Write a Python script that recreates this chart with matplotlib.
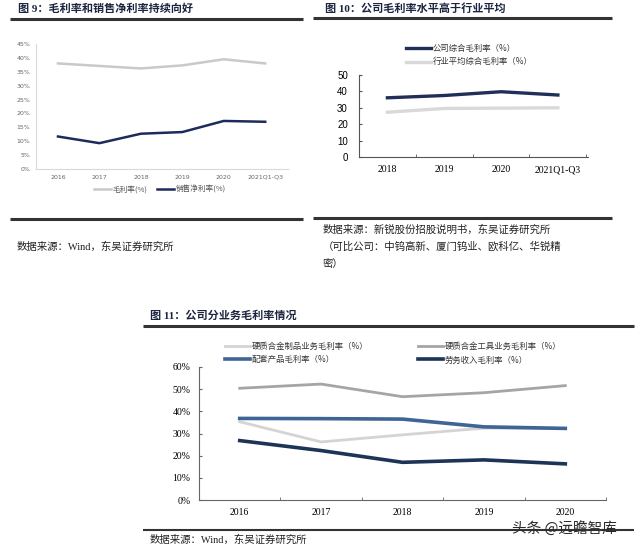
import matplotlib
matplotlib.use("Agg")
import matplotlib.pyplot as plt
from matplotlib.lines import Line2D

plt.rcParams['font.family'] = ['Noto Sans CJK SC', 'DejaVu Sans']

# ---------------- data ----------------
years1 = ["2016", "2017", "2018", "2019", "2020", "2021Q1-Q3"]
gross1 = [38.0, 37.1, 36.2, 37.3, 39.5, 38.0]
net1 = [11.7, 9.3, 12.7, 13.3, 17.3, 17.0]
legend1 = ["毛利率(%)", "销售净利率(%)"]

years2 = ["2018", "2019", "2020", "2021Q1-Q3"]
company2 = [36.1, 37.5, 39.8, 37.8]
industry2 = [27.3, 29.6, 29.8, 30.0]
legend2 = ["公司综合毛利率（%）", "行业平均综合毛利率（%）"]

years3 = ["2016", "2017", "2018", "2019", "2020"]
products3 = [35.3, 26.2, 29.4, 32.4, 32.3]
tools3 = [50.4, 52.3, 46.6, 48.4, 51.6]
supporting3 = [36.8, 36.7, 36.5, 33.0, 32.3]
service3 = [26.8, 22.3, 17.0, 18.1, 16.3]
legend3 = ["硬质合金制品业务毛利率（%）", "硬质合金工具业务毛利率（%）",
           "配套产品毛利率（%）", "劳务收入毛利率（%）"]

titles = ["图 9：毛利率和销售净利率持续向好",
          "图 10：公司毛利率水平高于行业平均",
          "图 11：公司分业务毛利率情况"]
src1 = "数据来源：Wind，东吴证券研究所"
src2 = ["数据来源：新锐股份招股说明书，东吴证券研究所",
        "（可比公司：中钨高新、厦门钨业、欧科亿、华锐精",
        "密）"]
src3 = "数据来源：Wind，东吴证券研究所"
watermark = "头条 @远瞻智库"

W, H = 640, 549
fig = plt.figure(figsize=(W / 100, H / 100), dpi=100)
fig.patch.set_facecolor("white")


def fx(x):
    return x / W


def fy(y):
    return 1 - y / H


def rect(l, t, r, b):
    return [fx(l), fy(b), (r - l) / W, (b - t) / H]


def hline(x0, x1, y, lw=2.0, color="#333333"):
    fig.add_artist(Line2D([fx(x0), fx(x1)], [fy(y), fy(y)], transform=fig.transFigure,
                          color=color, lw=lw, solid_capstyle="butt"))


def ftext(x, y, s, size=8, weight="normal", color="#222222", family=None, **kw):
    fam = family or ['Liberation Serif', 'Noto Sans CJK SC']
    fig.text(fx(x), fy(y), s, fontsize=size, fontweight=weight, color=color,
             family=fam, va="center", ha=kw.pop("ha", "left"), **kw)


TITLE_FAM = ['Liberation Serif', 'Noto Sans CJK SC']
title_color = "#1c2440"

# ---------------- chart 1 ----------------
ftext(18, 9, titles[0], size=8, weight="bold", color=title_color, family=TITLE_FAM)
hline(10, 303, 19, lw=2.2)
hline(10, 303, 219, lw=2.2)
ftext(17, 247, src1, size=7.5)

ax1 = fig.add_axes(rect(36, 44, 288, 169))
x1 = list(range(len(years1)))
ax1.plot(x1, gross1, color="#c9c9c9", lw=1.8, label=legend1[0])
ax1.plot(x1, net1, color="#1f2a5c", lw=1.8, label=legend1[1])
ax1.set_ylim(0, 45)
ax1.set_xlim(-0.53, 5.55)
ax1.set_yticks(range(0, 46, 5))
ax1.set_yticklabels([f"{v}%" for v in range(0, 46, 5)])
ax1.set_xticks(x1)
ax1.set_xticklabels(years1)
for s in ["top", "right"]:
    ax1.spines[s].set_visible(False)
for s in ["left", "bottom"]:
    ax1.spines[s].set_color("#d9d9d9")
    ax1.spines[s].set_linewidth(0.8)
ax1.tick_params(axis="both", length=0, labelsize=4.5, labelcolor="#666666", pad=4)
for lab in ax1.get_xticklabels() + ax1.get_yticklabels():
    lab.set_family(['DejaVu Sans'])
leg1 = ax1.legend(loc="center", bbox_to_anchor=(fx(160), fy(190)), bbox_transform=fig.transFigure,
                  ncol=2, frameon=False, fontsize=5.5, handlelength=2.2, columnspacing=1.2,
                  handletextpad=0.3)
for t in leg1.get_texts():
    t.set_color("#555555")

# ---------------- chart 2 ----------------
ftext(325, 9, titles[1], size=8, weight="bold", color=title_color, family=TITLE_FAM)
hline(313, 612, 18, lw=2.2)
hline(313, 612, 218, lw=2.2)
ftext(323, 230, src2[0], size=7.5)
ftext(323, 247, src2[1], size=7.5)
ftext(323, 264, src2[2], size=7.5)

ax2 = fig.add_axes(rect(359, 75, 588, 157))
x2 = list(range(len(years2)))
ax2.plot(x2, company2, color="#1f2f5a", lw=2.4, label=legend2[0])
ax2.plot(x2, industry2, color="#d9d9d9", lw=2.4, label=legend2[1])
ax2.set_ylim(0, 50)
ax2.set_xlim(-0.5, 3.53)
ax2.set_yticks(range(0, 51, 10))
ax2.set_xticks(x2)
ax2.set_xticklabels(years2)
ax2.set_xticks([0.5, 1.5, 2.5, 3.5], minor=True)
for s in ["top", "right"]:
    ax2.spines[s].set_visible(False)
for s in ["left", "bottom"]:
    ax2.spines[s].set_color("#555555")
    ax2.spines[s].set_linewidth(0.8)
ax2.tick_params(axis="y", direction="in", length=2.5, color="#555555", labelsize=7, pad=8)
ax2.tick_params(axis="x", which="major", length=0, labelsize=7, pad=6)
ax2.tick_params(axis="x", which="minor", direction="in", length=2.5, color="#555555")
for lab in ax2.get_yticklabels():
    lab.set_family(['Liberation Sans'])
for lab in ax2.get_xticklabels():
    lab.set_family(['Liberation Serif'])
leg2 = ax2.legend(loc="upper left", bbox_to_anchor=(fx(400), fy(38)), bbox_transform=fig.transFigure,
                  ncol=1, frameon=False, fontsize=6, handlelength=3.0, handletextpad=0.25,
                  labelspacing=0.55, borderpad=0.2)
for t in leg2.get_texts():
    t.set_color("#333333")

# ---------------- chart 3 ----------------
ftext(150, 316, titles[2], size=8, weight="bold", color=title_color, family=TITLE_FAM)
hline(143, 634, 326, lw=2.2)
hline(143, 634, 530, lw=1.5)
ftext(150, 540, src3, size=7.5)

ax3 = fig.add_axes(rect(199, 367, 606, 500))
x3 = list(range(len(years3)))
l_prod, = ax3.plot(x3, products3, color="#d4d4d4", lw=2.0)
l_tool, = ax3.plot(x3, tools3, color="#a5a5a5", lw=2.0)
l_sup, = ax3.plot(x3, supporting3, color="#3d6596", lw=2.6)
l_srv, = ax3.plot(x3, service3, color="#1c3456", lw=2.6)
ax3.set_ylim(0, 60)
ax3.set_xlim(-0.5, 4.5)
ax3.set_yticks(range(0, 61, 10))
ax3.set_yticklabels([f"{v}%" for v in range(0, 61, 10)])
ax3.set_xticks(x3)
ax3.set_xticklabels(years3)
ax3.set_xticks([0.5, 1.5, 2.5, 3.5, 4.5], minor=True)
for s in ["top", "right"]:
    ax3.spines[s].set_visible(False)
for s in ["left", "bottom"]:
    ax3.spines[s].set_color("#666666")
    ax3.spines[s].set_linewidth(0.8)
ax3.tick_params(axis="y", direction="in", length=2.5, color="#666666", labelsize=7, pad=6)
ax3.tick_params(axis="x", which="major", length=0, labelsize=7, pad=6)
ax3.tick_params(axis="x", which="minor", direction="in", length=2.5, color="#666666")
for lab in ax3.get_xticklabels() + ax3.get_yticklabels():
    lab.set_family(['Liberation Serif'])

legA = ax3.legend([l_prod, l_sup], [legend3[0], legend3[2]], loc="upper left",
                  bbox_to_anchor=(fx(219), fy(336)), bbox_transform=fig.transFigure,
                  frameon=False, fontsize=6, handlelength=3.0, handletextpad=0.25,
                  labelspacing=0.55, borderpad=0.2)
ax3.add_artist(legA)
legB = ax3.legend([l_tool, l_srv], [legend3[1], legend3[3]], loc="upper left",
                  bbox_to_anchor=(fx(412), fy(336)), bbox_transform=fig.transFigure,
                  frameon=False, fontsize=6, handlelength=3.0, handletextpad=0.25,
                  labelspacing=0.55, borderpad=0.2)
for lg in (legA, legB):
    for t in lg.get_texts():
        t.set_color("#333333")

fig.text(fx(512), fy(528), watermark, fontsize=10.5, color="#2b2b2b",
         family=['Noto Sans CJK SC', 'DejaVu Sans'], va="center", ha="left")

fig.savefig("out.png", dpi=100, facecolor="white")
